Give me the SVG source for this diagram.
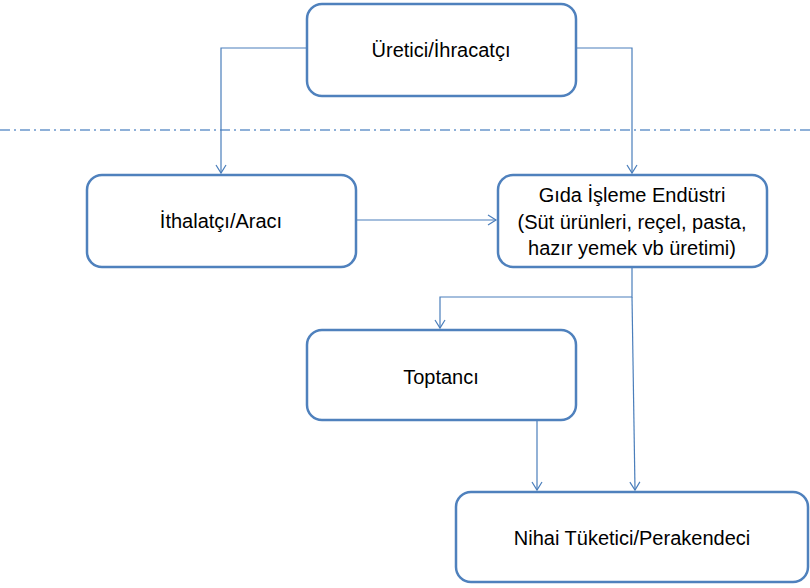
<svg xmlns="http://www.w3.org/2000/svg" width="810" height="588" viewBox="0 0 810 588">
<style>
.box{fill:#fff;stroke:#4F81BD;stroke-width:2.5}
.t{font-family:"Liberation Sans",Arial,sans-serif;font-size:20px;fill:#000;text-anchor:middle}
.c{fill:none;stroke:#4A7EBB;stroke-width:1.2}
</style>
<defs>
<marker id="a" markerWidth="12" markerHeight="12" refX="10" refY="6" orient="auto" markerUnits="userSpaceOnUse">
<path d="M2,1 L10,6 L2,11" fill="none" stroke="#4A7EBB" stroke-width="1.2"/>
</marker>
</defs>
<rect width="810" height="588" fill="#fff"/>
<line x1="0" y1="130" x2="810" y2="130" stroke="#6A96CC" stroke-width="1.3" stroke-dasharray="10,4,2,4"/>
<g id="connectors">
<path class="c" d="M307,48 H221 V173" marker-end="url(#a)"/>
<path class="c" d="M576,48 H632 V173" marker-end="url(#a)"/>
<path class="c" d="M357,220 H496" marker-end="url(#a)"/>
<path class="c" d="M632,268 V297 H440 V328" marker-end="url(#a)"/>
<path class="c" d="M632,297 L635,490" marker-end="url(#a)"/>
<path class="c" d="M537,421 V490" marker-end="url(#a)"/>
</g>
<g id="uretici">
<rect class="box" x="307" y="4" width="269" height="92" rx="15"/>
<text class="t" x="441" y="57">Üretici/İhracatçı</text>
</g>
<g id="ithalatci">
<rect class="box" x="87" y="175" width="269" height="92" rx="15"/>
<text class="t" x="221" y="228">İthalatçı/Aracı</text>
</g>
<g id="gida">
<rect class="box" x="498" y="175" width="269" height="92" rx="15"/>
<text class="t" x="632" y="202">Gıda İşleme Endüstri</text>
<text class="t" x="632" y="229">(Süt ürünleri, reçel, pasta,</text>
<text class="t" x="632" y="255">hazır yemek vb üretimi)</text>
</g>
<g id="toptanci">
<rect class="box" x="307" y="330" width="269" height="90" rx="15"/>
<text class="t" x="441" y="384">Toptancı</text>
</g>
<g id="nihai">
<rect class="box" x="456" y="492" width="352" height="90" rx="15"/>
<text class="t" x="632" y="545">Nihai Tüketici/Perakendeci</text>
</g>
</svg>
